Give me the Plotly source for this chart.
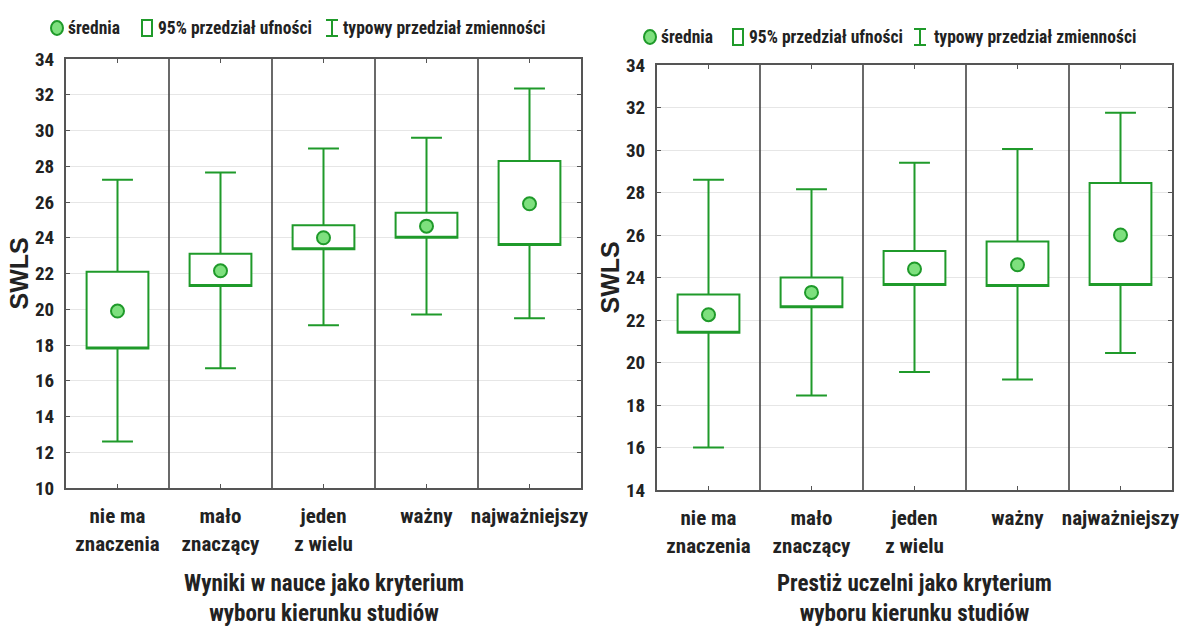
import plotly.graph_objects as go

# ---------------- data ----------------
categories = ["nie ma<br>znaczenia", "mało<br>znaczący", "jeden<br>z wielu", "ważny", "najważniejszy"]

means_L = [19.9, 22.15, 24.0, 24.65, 25.9]
ci_lo_L = [17.8, 21.3, 23.35, 24.0, 23.6]
ci_hi_L = [22.1, 23.1, 24.7, 25.4, 28.3]
typ_lo_L = [12.6, 16.7, 19.1, 19.7, 19.5]
typ_hi_L = [27.25, 27.65, 29.0, 29.6, 32.35]

means_R = [22.25, 23.3, 24.4, 24.6, 26.0]
ci_lo_R = [21.4, 22.6, 23.65, 23.6, 23.65]
ci_hi_R = [23.2, 24.0, 25.25, 25.7, 28.45]
typ_lo_R = [16.0, 18.45, 19.55, 19.2, 20.45]
typ_hi_R = [28.6, 28.15, 29.4, 30.05, 31.75]

yticks_L = list(range(10, 35, 2))
yticks_R = list(range(14, 35, 2))

title_L = "Wyniki w nauce jako kryterium<br>wyboru kierunku studiów"
title_R = "Prestiż uczelni jako kryterium<br>wyboru kierunku studiów"
y_title = "SWLS"
legend_labels = ["średnia", "95% przedział ufności", "typowy przedział zmienności"]

# ---------------- style ----------------
W, H = 1180, 626
GREEN = "#1f9a2a"
LIGHT = "#7ee07e"
FRAME = "#555555"
TXT = "#222222"
NARROW = "Roboto Condensed, Roboto, Liberation Sans, sans-serif"


def px(x):
    return x / W


def py(y):
    return 1 - y / H


xs = list(range(1, len(categories) + 1))
fig = go.Figure()

panels = [
    dict(xa="x", ya="y", m=means_L, lo=ci_lo_L, hi=ci_hi_L, tlo=typ_lo_L, thi=typ_hi_L),
    dict(xa="x2", ya="y2", m=means_R, lo=ci_lo_R, hi=ci_hi_R, tlo=typ_lo_R, thi=typ_hi_R),
]

for p in panels:
    fig.add_trace(go.Box(
        x=xs, q1=p["lo"], median=p["lo"], q3=p["hi"],
        lowerfence=p["tlo"], upperfence=p["thi"],
        width=0.6, whiskerwidth=0.5, boxpoints=False,
        line=dict(color=GREEN, width=2), fillcolor="white",
        xaxis=p["xa"], yaxis=p["ya"], showlegend=False, hoverinfo="skip",
    ))
    fig.add_trace(go.Scatter(
        x=xs, y=p["m"], mode="markers",
        marker=dict(symbol="circle", size=13, color=LIGHT, line=dict(color=GREEN, width=2)),
        xaxis=p["xa"], yaxis=p["ya"], showlegend=False, hoverinfo="skip",
    ))
    # category dividers
    for i in range(len(categories) - 1):
        fig.add_shape(type="line", xref=p["xa"], yref=p["ya"] + " domain",
                      x0=xs[i] + 0.5, x1=xs[i] + 0.5, y0=0, y1=1,
                      line=dict(color="#444444", width=1.6), layer="above")

axis_common = dict(
    showline=True, linecolor=FRAME, linewidth=2, mirror="ticks",
    ticks="inside", ticklen=4, tickcolor=FRAME, tickwidth=1,
    zeroline=False, automargin=False,
)

xdom_L = [px(66), px(581)]
xdom_R = [px(657), px(1172)]
ydom_L = [py(488), py(59)]
ydom_R = [py(490), py(65)]

xfont = dict(family=NARROW, size=21, color=TXT, weight="bold")
yfont = dict(family=NARROW, size=19, color=TXT, weight="bold")

fig.update_layout(
    width=W, height=H, margin=dict(l=0, r=0, t=0, b=0, autoexpand=False),
    paper_bgcolor="white", plot_bgcolor="white",
    xaxis=dict(domain=xdom_L, anchor="y", range=[0.5, len(categories) + 0.5],
               tickvals=xs, ticktext=categories, showgrid=False, tickangle=0,
               ticklabelstandoff=8, tickfont=xfont, **axis_common),
    yaxis=dict(domain=ydom_L, anchor="x", range=[10, 34], tickvals=yticks_L,
               showgrid=True, gridcolor="#e6e6e6", gridwidth=1,
               ticklabelstandoff=6, tickfont=yfont, **axis_common),
    xaxis2=dict(domain=xdom_R, anchor="y2", range=[0.5, len(categories) + 0.5],
                tickvals=xs, ticktext=categories, showgrid=False, tickangle=0,
                ticklabelstandoff=8, tickfont=xfont, **axis_common),
    yaxis2=dict(domain=ydom_R, anchor="x2", range=[14, 34], tickvals=yticks_R,
                showgrid=True, gridcolor="#e6e6e6", gridwidth=1,
                ticklabelstandoff=6, tickfont=yfont, **axis_common),
)

annots = []
# x-axis titles
for cx, t in [((66 + 581) / 2, title_L), ((657 + 1172) / 2, title_R)]:
    annots.append(dict(x=px(cx), y=py(598), xref="paper", yref="paper", text=t,
                       showarrow=False, xanchor="center", yanchor="middle",
                       font=dict(family=NARROW, size=23, color=TXT, weight="bold")))
# y-axis titles
for cx, cy in [(19, (59 + 488) / 2), (609, (65 + 490) / 2)]:
    annots.append(dict(x=px(cx), y=py(cy), xref="paper", yref="paper", text=y_title,
                       showarrow=False, textangle=-90, xanchor="center", yanchor="middle",
                       font=dict(family="Liberation Sans, Arial, sans-serif", size=25,
                                 color=TXT, weight="bold")))

# legends (positions in pixels)
legend_pos = [
    dict(y=28, circ=57, t1=66, box=(142, 152), t2=156, bar=332, t3=341),
    dict(y=37, circ=650, t1=659, box=(733, 743), t2=747, bar=920, t3=932),
]
shapes = []
for L in legend_pos:
    y = L["y"]
    shapes.append(dict(type="circle", xref="paper", yref="paper",
                       x0=px(L["circ"] - 6), x1=px(L["circ"] + 6), y0=py(y + 7), y1=py(y - 7),
                       fillcolor=LIGHT, line=dict(color=GREEN, width=2)))
    shapes.append(dict(type="rect", xref="paper", yref="paper",
                       x0=px(L["box"][0]), x1=px(L["box"][1]), y0=py(y + 8), y1=py(y - 8),
                       fillcolor="white", line=dict(color=GREEN, width=2)))
    b = L["bar"]
    shapes.append(dict(type="line", xref="paper", yref="paper",
                       x0=px(b), x1=px(b), y0=py(y + 8), y1=py(y - 8),
                       line=dict(color=GREEN, width=2)))
    for yy in (y - 8, y + 8):
        shapes.append(dict(type="line", xref="paper", yref="paper",
                           x0=px(b - 6), x1=px(b + 6), y0=py(yy), y1=py(yy),
                           line=dict(color=GREEN, width=2)))
    for xk, lab in [("t1", legend_labels[0]), ("t2", legend_labels[1]), ("t3", legend_labels[2])]:
        annots.append(dict(x=px(L[xk]), y=py(y), xref="paper", yref="paper", text=lab,
                           showarrow=False, xanchor="left", yanchor="middle",
                           font=dict(family=NARROW, size=17.5, color=TXT, weight="bold")))

fig.update_layout(annotations=annots)
for s in shapes:
    fig.add_shape(**s)

fig.write_html("out.html")
